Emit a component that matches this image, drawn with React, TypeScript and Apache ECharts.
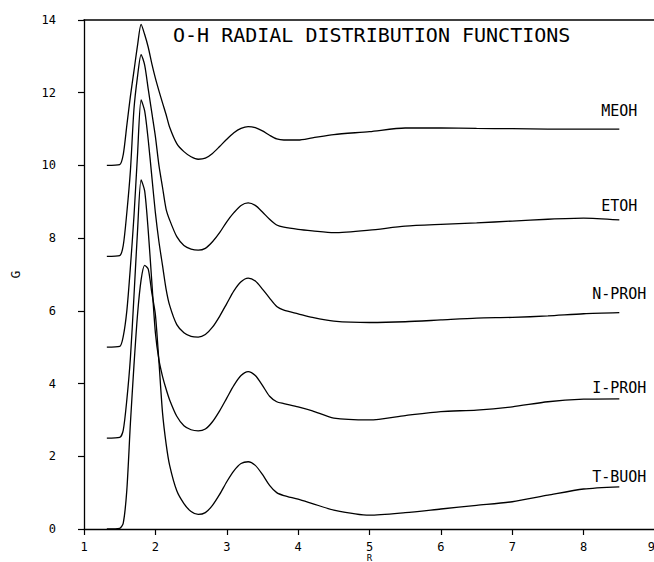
import React, { useEffect, useRef } from "react";
import * as echarts from "echarts";

const rValues = [1.32, 1.5, 1.55, 1.6, 1.65, 1.7, 1.75, 1.8, 1.85, 1.9, 1.95, 2.0, 2.05, 2.1, 2.15, 2.2, 2.3, 2.4, 2.5, 2.6, 2.7, 2.8, 2.9, 3.0, 3.1, 3.2, 3.3, 3.4, 3.5, 3.6, 3.7, 3.8, 4.0, 4.2, 4.5, 5.0, 5.5, 6.0, 6.5, 7.0, 7.5, 8.0, 8.5];

const meoh = [10, 10.02, 10.3, 11.1, 11.9, 12.6, 13.3, 13.88, 13.6, 13.25, 12.8, 12.4, 12.05, 11.72, 11.4, 11.05, 10.6, 10.38, 10.24, 10.17, 10.2, 10.33, 10.52, 10.72, 10.9, 11.02, 11.07, 11.04, 10.95, 10.83, 10.73, 10.7, 10.7, 10.76, 10.85, 10.93, 11.03, 11.03, 11.02, 11.01, 11.0, 11.0, 11.0];
const etoh = [7.5, 7.52, 7.8, 8.7, 9.85, 11.55, 12.45, 13.05, 12.76, 12.1, 11.45, 10.8, 10.0, 9.4, 8.8, 8.5, 8.04, 7.8, 7.7, 7.67, 7.72, 7.9, 8.15, 8.45, 8.7, 8.9, 8.97, 8.9, 8.72, 8.52, 8.36, 8.3, 8.24, 8.2, 8.15, 8.22, 8.33, 8.38, 8.42, 8.47, 8.52, 8.55, 8.5];
const nproh = [5, 5.02, 5.3, 6.0, 7.2, 8.6, 10.3, 11.8, 11.5, 10.7, 9.7, 8.7, 7.9, 7.25, 6.6, 6.15, 5.62, 5.4, 5.3, 5.28, 5.35, 5.55, 5.85, 6.2, 6.55, 6.8, 6.9, 6.82, 6.6, 6.35, 6.12, 6.02, 5.92, 5.82, 5.72, 5.68, 5.7, 5.75, 5.8, 5.82, 5.86, 5.92, 5.95];
const iproh = [2.5, 2.52, 2.72, 3.55, 4.7, 6.4, 8.2, 9.6, 9.3, 8.2, 6.8, 5.4, 4.65, 4.2, 3.85, 3.55, 3.1, 2.84, 2.73, 2.7, 2.75, 2.95, 3.25, 3.6, 3.95, 4.22, 4.33, 4.22, 3.95, 3.65, 3.5, 3.45, 3.36, 3.25, 3.05, 3.0, 3.12, 3.23, 3.27, 3.36, 3.5, 3.57, 3.58];
const tbuoh = [0, 0.02, 0.16, 1.07, 2.9, 4.5, 5.9, 6.85, 7.25, 7.15, 6.5, 5.9, 4.6, 3.2, 2.35, 1.75, 1.05, 0.7, 0.48, 0.4, 0.45, 0.65, 0.95, 1.3, 1.6, 1.8, 1.85, 1.75, 1.5, 1.2, 1.0, 0.92, 0.82, 0.7, 0.52, 0.38, 0.45, 0.55, 0.65, 0.75, 0.93, 1.1, 1.16];

const seriesNames = ["MEOH", "ETOH", "N-PROH", "I-PROH", "T-BUOH"];
const seriesValues = [meoh, etoh, nproh, iproh, tbuoh];
const labelLift = [10.5, 6.5, 11.5, 3.5, 2.5];

const titleText = "O-H RADIAL DISTRIBUTION FUNCTIONS";
const xAxisName = "R";
const yAxisName = "G";

const MONO = "'DejaVu Sans Mono', 'Liberation Mono', monospace";

export default function App() {
  const ref = useRef<HTMLDivElement>(null);
  useEffect(() => {
    if (!ref.current) return;
    const chart = echarts.init(ref.current, undefined, { renderer: "svg" });
    const series = seriesNames.map((name, i) => {
      const vals = seriesValues[i];
      const lastR = rValues[rValues.length - 1];
      const lastV = vals[vals.length - 1];
      return {
        name,
        type: "line",
        xAxisIndex: 0,
        data: rValues.map((r, j) => [r, vals[j]]),
        showSymbol: false,
        symbol: "none",
        smooth: 0.25,
        lineStyle: { color: "#000", width: 1.3 },
        markPoint: {
          symbol: "circle",
          symbolSize: 0,
          data: [{ coord: [lastR, lastV] }],
          label: {
            show: true,
            position: "top",
            distance: labelLift[i],
            formatter: name,
            color: "#000",
            fontFamily: MONO,
            fontSize: 15,
          },
        },
      };
    });
    chart.setOption({
      animation: false,
      backgroundColor: "#fff",
      grid: { left: 84, right: -1, top: 20, bottom: 33, outerBoundsMode: "none", containLabel: false },
      graphic: [
        {
          type: "text",
          left: 173,
          top: 25,
          style: {
            text: titleText,
            fill: "#000",
            font: `20px ${MONO}`,
          },
        },
      ],
      xAxis: [
        {
          type: "value",
          min: 1,
          max: 9,
          interval: 1,
          name: xAxisName,
          nameLocation: "middle",
          nameGap: 24,
          nameMoveOverlap: false,
          nameTextStyle: { color: "#000", fontFamily: MONO, fontSize: 9, lineHeight: 9 },
          axisLine: { show: true, onZero: false, lineStyle: { color: "#000", width: 1.3 } },
          axisTick: { show: true, inside: false, length: 6, lineStyle: { color: "#000", width: 1.2 } },
          axisLabel: { color: "#000", fontFamily: MONO, fontSize: 12, lineHeight: 12, margin: 12, alignMaxLabel: "right" },
          splitLine: { show: false },
        },
        {
          type: "value",
          position: "top",
          min: 1,
          max: 9,
          interval: 1,
          axisLine: { show: true, onZero: false, lineStyle: { color: "#000", width: 1.5 } },
          axisTick: { show: false },
          axisLabel: { show: false },
          splitLine: { show: false },
        },
      ],
      yAxis: {
        type: "value",
        min: 0,
        max: 14,
        interval: 2,
        name: yAxisName,
        nameLocation: "middle",
        nameGap: 62,
        nameRotate: 90,
        nameMoveOverlap: false,
        nameTextStyle: { color: "#000", fontFamily: MONO, fontSize: 13 },
        axisLine: { show: true, onZero: false, lineStyle: { color: "#000", width: 1.3 } },
        axisTick: { show: true, inside: false, length: 6, lineStyle: { color: "#000", width: 1.2 } },
        axisLabel: { color: "#000", fontFamily: MONO, fontSize: 12, margin: 28 },
        splitLine: { show: false },
      },
      series,
    });
    return () => chart.dispose();
  }, []);
  return (
    <div
      ref={ref}
      style={{ position: "absolute", left: 0, top: 0, width: 654, height: 562, background: "#fff" }}
    />
  );
}
